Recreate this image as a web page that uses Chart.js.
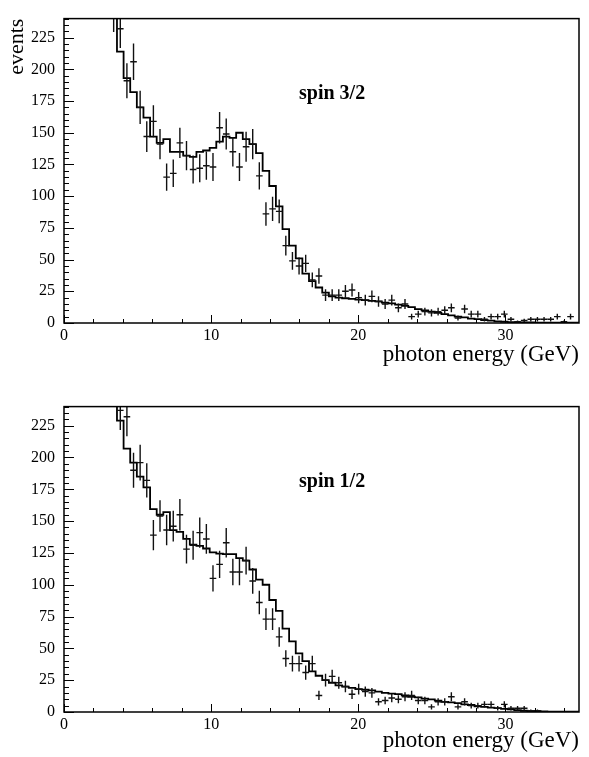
<!DOCTYPE html>
<html>
<head>
<meta charset="utf-8">
<script src="https://cdn.jsdelivr.net/npm/chart.js@4.4.0/dist/chart.umd.min.js"></script>
<style>
  html, body { margin: 0; padding: 0; background: #fff; }
  canvas { position: absolute; left: 0; }
  #top { top: 0; }
  #bottom { top: 388px; }
</style>
</head>
<body>
<canvas id="top" width="589" height="388"></canvas>
<canvas id="bottom" width="589" height="369"></canvas>
<script>
// histogram binning (GeV); first listed bin is bin number 7
var binWidth = 0.45;
var firstBin = 7;

var xTickValues = [0, 10, 20, 30];
var yTickValues = [0, 25, 50, 75, 100, 125, 150, 175, 200, 225];
var panelLabels = ["spin 3/2", "spin 1/2"];

// spin 3/2: data points (events per bin) and the fitted histogram
var spin32Events = [245, 232, 191, 206, 170, 147, 159, 141, 115, 118, 142, 132, 121, 122, 124, 123,
  154, 149, 135, 123, 139, 141, 116, 86, 90, 88, 61, 49, 45, 47, 34, 37, 22, 22, 22, 25, 26, 20,
  18, 21, 17, 15, 18, 12, 15, 5, 7, 9, 8, 9, 10, 12, 4, 11, 7, 7, 3, 5, 5, 7, 3, 1, 2, 3, 3, 3,
  3, 5, 1, 5, 0];
var spin32Hist = [250, 214, 193, 182, 170, 162, 147, 142, 145, 135, 135, 132, 131, 135, 136, 138,
  143, 147, 146, 150, 145, 141, 134, 120, 108, 92, 74, 61, 51, 39, 33, 28, 24, 21, 20, 19.5, 19,
  18.5, 18, 17.5, 17, 16, 15.5, 14.5, 13.5, 12.5, 11, 10, 9, 8, 7, 6, 5, 4.5, 3.5, 3, 2.3, 1.8,
  1.3, 1, 0.7, 0.5, 0.4, 0.4, 0.3, 0.3, 0.3, 0.2, 0.2, 0.2, 0.2];

// spin 1/2
var spin12Events = [260, 237, 232, 190, 196, 182, 139, 154, 143, 146, 155, 128, 131, 141, 136, 105,
  116, 133, 110, 110, 119, 103, 86, 73, 73, 59, 42, 38, 38, 31, 38, 13, 25, 28, 23, 20, 14, 18,
  16, 15, 8, 9, 11, 10, 12, 13, 9, 9, 4, 8, 8, 12, 4, 8, 5, 5, 6, 6, 3, 6, 3, 3, 3, 1, 1, 0, 0,
  0, 0, 0, 0];
var spin12Hist = [250, 229, 207, 196, 185, 176.5, 159.5, 155, 157, 143, 141.5, 136, 131.5, 130.5,
  128.5, 125.5, 124.5, 124, 124, 121, 119, 112, 104, 100, 88, 79.5, 65.5, 55.5, 46, 40, 32, 28.5,
  25, 23, 21, 20, 19, 18, 17.5, 17, 16, 15, 14.5, 14, 13, 12, 11.5, 10.5, 10, 9, 8, 7.5, 7, 6,
  5.5, 4.5, 4, 3.5, 3, 2.5, 2, 1.5, 1, 0.8, 0.6, 0.4, 0.3, 0.2, 0.2, 0.2, 0.2];

var serif = "'Liberation Serif', 'DejaVu Serif', serif";

var histoDecor = {
    id: "histoDecor",
    afterDatasetsDraw: function(chart, args, opts) {
        var ctx = chart.ctx;
        var a = chart.chartArea;
        var xs = chart.scales.x;
        var ys = chart.scales.y;
        var meta = chart.getDatasetMeta(1);
        var values = chart.data.datasets[1].data;

        ctx.save();
        ctx.beginPath();
        ctx.rect(a.left, a.top, a.right - a.left, a.bottom - a.top);
        ctx.clip();
        ctx.strokeStyle = "#111";
        ctx.lineWidth = 1.4;
        meta.data.forEach(function(pt, i) {
            var p = values[i];
            var err = Math.sqrt(p.y);
            var x0 = xs.getPixelForValue(p.x - binWidth / 2);
            var x1 = xs.getPixelForValue(p.x + binWidth / 2);
            ctx.beginPath();
            ctx.moveTo(x0, pt.y);
            ctx.lineTo(x1, pt.y);
            if (err > 0) {
                ctx.moveTo(pt.x, ys.getPixelForValue(p.y + err));
                ctx.lineTo(pt.x, ys.getPixelForValue(p.y - err));
            }
            ctx.stroke();
        });
        ctx.restore();

        ctx.save();
        ctx.strokeStyle = "#000";
        ctx.lineWidth = 1.5;
        ctx.strokeRect(a.left, a.top, a.right - a.left, a.bottom - a.top);
        ctx.lineWidth = 1;
        ctx.beginPath();
        for (var v = 0; v <= ys.max; v += 5) {
            var y = Math.round(ys.getPixelForValue(v)) + 0.5;
            ctx.moveTo(a.left, y);
            ctx.lineTo(a.left + (v % 25 === 0 ? 10 : 5), y);
        }
        for (var e = 0; e <= xs.max; e += 2) {
            var x = Math.round(xs.getPixelForValue(e)) + 0.5;
            ctx.moveTo(x, a.bottom);
            ctx.lineTo(x, a.bottom - (e % 10 === 0 ? 8 : 4));
        }
        ctx.stroke();

        ctx.fillStyle = "#000";
        ctx.font = "bold 20px " + serif;
        ctx.textBaseline = "alphabetic";
        ctx.fillText(opts.label, a.left + 235, a.top + 80);
        ctx.restore();
    }
};

function makeChart(canvasId, hist, events, label, axisHeight, titlePad, showYTitle) {
    var histPoints = hist.map(function(h, i) {
        return { x: (firstBin + i) * binWidth, y: h };
    });
    histPoints.push({ x: (firstBin + hist.length) * binWidth, y: hist[hist.length - 1] });
    var eventPoints = events.map(function(v, i) {
        return { x: (firstBin + i + 0.5) * binWidth, y: v };
    });

    return new Chart(document.getElementById(canvasId).getContext("2d"), {
        type: "line",
        data: {
            datasets: [{
                data: histPoints,
                borderColor: "#000",
                borderWidth: 1.8,
                stepped: true,
                pointRadius: 0,
                fill: false
            }, {
                type: "scatter",
                data: eventPoints,
                pointRadius: 0,
                showLine: false
            }]
        },
        options: {
            responsive: false,
            animation: false,
            devicePixelRatio: 1,
            layout: { padding: { top: 12, right: 10, left: 0, bottom: 0 } },
            plugins: {
                legend: { display: false },
                tooltip: { enabled: false },
                histoDecor: { label: label }
            },
            scales: {
                x: {
                    type: "linear",
                    min: 0,
                    max: 35,
                    afterBuildTicks: function(s) {
                        s.ticks = xTickValues.map(function(v) { return { value: v }; });
                    },
                    afterFit: function(s) { s.height = axisHeight; },
                    grid: { display: false, drawTicks: false },
                    border: { display: false },
                    ticks: { color: "#000", padding: 3, maxRotation: 0, font: { family: serif, size: 16 } },
                    title: {
                        display: true,
                        text: "photon energy (GeV)",
                        align: "end",
                        color: "#000",
                        padding: { top: 0, bottom: titlePad },
                        font: { family: serif, size: 23 }
                    }
                },
                y: {
                    min: 0,
                    max: 240,
                    afterBuildTicks: function(s) {
                        s.ticks = yTickValues.map(function(v) { return { value: v }; });
                    },
                    afterFit: function(s) { s.width = 64; },
                    grid: { display: false, drawTicks: false },
                    border: { display: false },
                    ticks: { color: "#000", padding: 9, font: { family: serif, size: 16 } },
                    title: {
                        display: showYTitle,
                        text: "events",
                        align: "end",
                        color: "#000",
                        padding: { top: 4, bottom: 0 },
                        font: { family: serif, size: 22 }
                    }
                }
            }
        },
        plugins: [histoDecor]
    });
}

document.addEventListener("DOMContentLoaded", function() {
    makeChart("top", spin32Hist, spin32Events, panelLabels[0], 65, 19, true);
    makeChart("bottom", spin12Hist, spin12Events, panelLabels[1], 45, 2, false);
});
</script>
</body>
</html>
